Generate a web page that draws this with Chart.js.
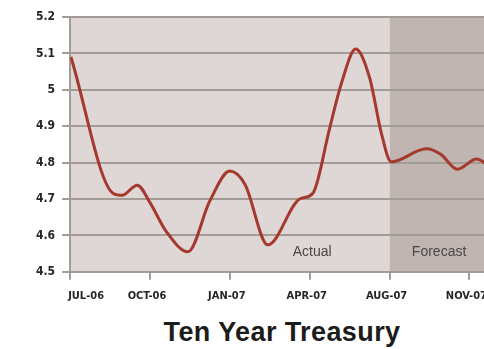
<!DOCTYPE html>
<html>
<head>
<meta charset="utf-8">
<script src="https://cdn.jsdelivr.net/npm/chart.js@4/dist/chart.umd.min.js"></script>
<style>
  html, body { margin:0; padding:0; background:#fff; overflow:hidden; }
  #wrap { position:relative; width:500px; height:317px; }
  #title { position:absolute; left:70px; width:424px; top:317px; text-align:center; letter-spacing:0.4px;
           font-family:'Liberation Sans', Arial, sans-serif; font-weight:bold; font-size:27px; color:#1c1c1c; }
</style>
</head>
<body>
<div id="wrap"><canvas id="chart"></canvas></div>
<div id="title">Ten Year Treasury</div>
<script>
// x positions are in tick units (0 = JUL-06, 1 = OCT-06, ...)
const tickLabels = ['JUL-06','OCT-06','JAN-07','APR-07','AUG-07','NOV-07'];
const xVals = [0.01, 0.54, 0.65, 0.84, 1.0, 1.2, 1.475, 1.75, 2.0, 2.19, 2.475, 2.875, 3.04, 3.25, 3.4, 3.575, 3.75, 3.9, 4.02, 4.46, 4.64, 4.85, 5.09, 5.25];
const yields = [5.09, 4.715, 4.71, 4.738, 4.69, 4.612, 4.555, 4.695, 4.777, 4.74, 4.574, 4.70, 4.716, 4.895, 5.02, 5.112, 5.033, 4.878, 4.802, 4.838, 4.823, 4.782, 4.81, 4.79];
const forecastStart = 4;
const areaLabels = [{text:'Actual', x:3.03, y:4.553}, {text:'Forecast', x:4.62, y:4.553}];

const FONT = "'DejaVu Sans Condensed', 'Liberation Sans', Arial, sans-serif";

const shading = {
  id:'shading',
  beforeDraw(chart){
    const {ctx, chartArea:a, scales:{x}} = chart;
    // first x label sits to the right of its tick, like the original
    const items = x.getLabelItems(a);
    if(items && items[0]){
      items[0].options.textAlign = 'left';
      items[0].options.translation[0] = x.getPixelForValue(0) - 2;
    }
    const fx = x.getPixelForValue(forecastStart);
    ctx.save();
    ctx.fillStyle = '#dfd7d5';
    ctx.fillRect(a.left, a.top, fx - a.left, a.bottom - a.top);
    ctx.fillStyle = '#c0b5b1';
    ctx.fillRect(fx, a.top, a.right - fx, a.bottom - a.top);
    ctx.restore();
  },
  afterDatasetsDraw(chart){
    const {ctx, scales:{x, y}} = chart;
    ctx.save();
    ctx.font = "14px 'Liberation Sans', Arial, sans-serif";
    ctx.fillStyle = '#4a4646';
    ctx.textAlign = 'center';
    ctx.textBaseline = 'middle';
    areaLabels.forEach(l => ctx.fillText(l.text, x.getPixelForValue(l.x), y.getPixelForValue(l.y)));
    ctx.restore();
  }
};

new Chart(document.getElementById('chart'), {
  type:'line',
  data:{
    datasets:[{
      data: xVals.map((v,i) => ({x:v, y:yields[i]})),
      borderColor:'#a6392d',
      borderWidth:3,
      pointRadius:0,
      cubicInterpolationMode:'monotone',
      fill:false
    }]
  },
  options:{
    responsive:true,
    maintainAspectRatio:false,
    animation:false,
    layout:{ padding:{ top:17, left:29, right:0, bottom:4 } },
    plugins:{ legend:{display:false}, tooltip:{enabled:false} },
    scales:{
      x:{
        type:'linear', min:0, max:5.375,
        afterBuildTicks(s){ s.ticks = tickLabels.map((_,i) => ({value:i})); },
        ticks:{ autoSkip:false, maxRotation:0, color:'#262626', font:{family:FONT, size:11, weight:'bold'}, padding:10,
                labelOffset:-3, callback:(v) => tickLabels[v] },
        grid:{ drawOnChartArea:false, drawTicks:true, tickLength:8, color:'#a39b95', lineWidth:2 },
        border:{ display:false }
      },
      y:{
        min:4.5, max:5.2,
        ticks:{ stepSize:0.1, color:'#262626', font:{family:FONT, size:12, weight:'bold'}, padding:7,
                callback:(v) => String(Math.round(v*10)/10) },
        grid:{ color:'#a39b95', lineWidth:2, tickLength:8 },
        border:{ display:true, color:'#a39b95', width:2 }
      }
    }
  },
  plugins:[shading]
});
</script>
</body>
</html>
